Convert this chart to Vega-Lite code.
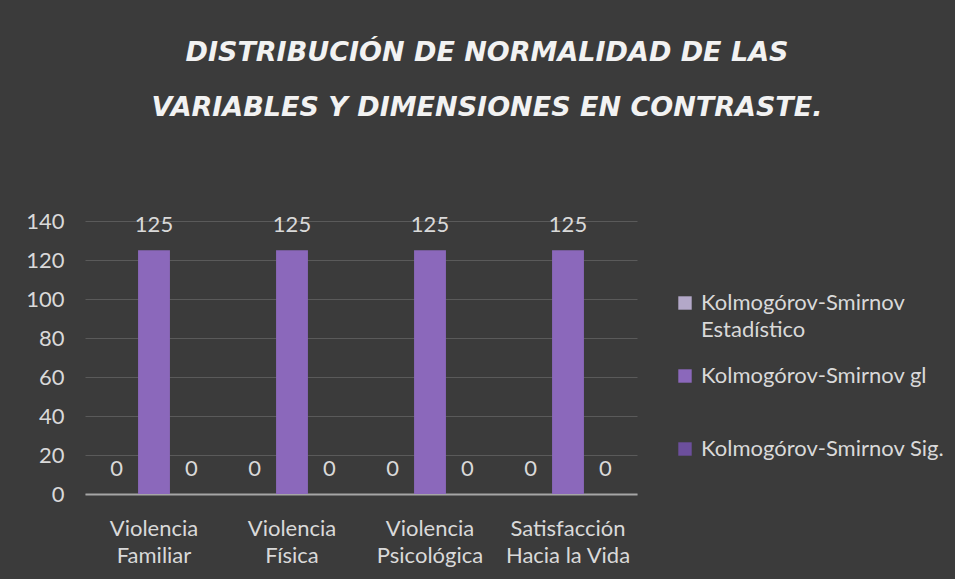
{
  "$schema": "https://vega.github.io/schema/vega-lite/v6.json",
  "width": 552,
  "height": 273,
  "autosize": {"type": "none"},
  "padding": {"left": 85, "top": 221, "right": 318, "bottom": 85},
  "background": "#3b3b3b",
  "title": {
    "text": ["DISTRIBUCIÓN DE NORMALIDAD DE LAS", "VARIABLES Y DIMENSIONES EN CONTRASTE."],
    "font": "DejaVu Sans",
    "fontSize": 27,
    "fontStyle": "italic",
    "fontWeight": "bold",
    "color": "#f2f2f2",
    "lineHeight": 55,
    "anchor": "middle",
    "dx": 126,
    "offset": 88
  },
  "data": {
    "values": [
      {"categoria": "Violencia Familiar", "serie": "Kolmogórov-Smirnov Estadístico", "valor": 0},
      {"categoria": "Violencia Familiar", "serie": "Kolmogórov-Smirnov gl", "valor": 125},
      {"categoria": "Violencia Familiar", "serie": "Kolmogórov-Smirnov Sig.", "valor": 0},
      {"categoria": "Violencia Física", "serie": "Kolmogórov-Smirnov Estadístico", "valor": 0},
      {"categoria": "Violencia Física", "serie": "Kolmogórov-Smirnov gl", "valor": 125},
      {"categoria": "Violencia Física", "serie": "Kolmogórov-Smirnov Sig.", "valor": 0},
      {"categoria": "Violencia Psicológica", "serie": "Kolmogórov-Smirnov Estadístico", "valor": 0},
      {"categoria": "Violencia Psicológica", "serie": "Kolmogórov-Smirnov gl", "valor": 125},
      {"categoria": "Violencia Psicológica", "serie": "Kolmogórov-Smirnov Sig.", "valor": 0},
      {"categoria": "Satisfacción Hacia la Vida", "serie": "Kolmogórov-Smirnov Estadístico", "valor": 0},
      {"categoria": "Satisfacción Hacia la Vida", "serie": "Kolmogórov-Smirnov gl", "valor": 125},
      {"categoria": "Satisfacción Hacia la Vida", "serie": "Kolmogórov-Smirnov Sig.", "valor": 0}
    ]
  },
  "encoding": {
    "x": {
      "field": "categoria",
      "type": "nominal",
      "sort": null,
      "scale": {"paddingInner": 0.185, "paddingOuter": 0.0925},
      "axis": {
        "title": null,
        "labelAngle": 0,
        "labelFont": "Lato",
        "labelFontSize": 22,
        "labelColor": "#d9d9d9",
        "labelExpr": "datum.label == 'Violencia Familiar' ? ['Violencia','Familiar'] : datum.label == 'Violencia Física' ? ['Violencia','Física'] : datum.label == 'Violencia Psicológica' ? ['Violencia','Psicológica'] : ['Satisfacción','Hacia la Vida']",
        "labelLineHeight": 27,
        "labelPadding": 34,
        "labelBaseline": "middle",
        "ticks": false,
        "domainColor": "#a6a6a6",
        "domainWidth": 2,
        "grid": false
      }
    },
    "xOffset": {"field": "serie", "sort": null, "scale": {"paddingInner": 0.15, "paddingOuter": 0.075}},
    "y": {
      "field": "valor",
      "type": "quantitative",
      "scale": {"domain": [0, 140]},
      "axis": {
        "title": null,
        "values": [0, 20, 40, 60, 80, 100, 120, 140],
        "labelFont": "Lato",
        "labelFontSize": 22,
        "labelColor": "#d9d9d9",
        "labelPadding": 21,
        "ticks": false,
        "domain": false,
        "gridColor": "#5a5a5a",
        "gridWidth": 1
      }
    }
  },
  "layer": [
    {
      "mark": {"type": "bar", "strokeWidth": 0},
      "encoding": {
        "color": {
          "field": "serie",
          "type": "nominal",
          "sort": null,
          "scale": {"range": ["#b3a8c8", "#8b68bb", "#6c4f9c"]},
          "legend": {
            "title": null,
            "orient": "none",
            "legendX": 589,
            "legendY": 71,
            "symbolType": "square",
            "symbolSize": 180,
            "symbolStrokeWidth": 0,
            "labelFont": "Lato",
            "labelFontSize": 22,
            "labelColor": "#d9d9d9",
            "labelLimit": 400,
            "labelOffset": 5,
            "labelExpr": "datum.label == 'Kolmogórov-Smirnov Estadístico' ? ['Kolmogórov-Smirnov','Estadístico'] : [datum.label, ' ']",
            "rowPadding": 24
          }
        }
      }
    },
    {
      "mark": {"type": "text", "dy": -25, "font": "Lato", "fontSize": 22, "color": "#d9d9d9", "baseline": "middle"},
      "encoding": {"text": {"field": "valor", "type": "quantitative"}}
    }
  ],
  "config": {
    "view": {"stroke": null},
    "style": {"guide-label": {"lineHeight": 27}}
  }
}
